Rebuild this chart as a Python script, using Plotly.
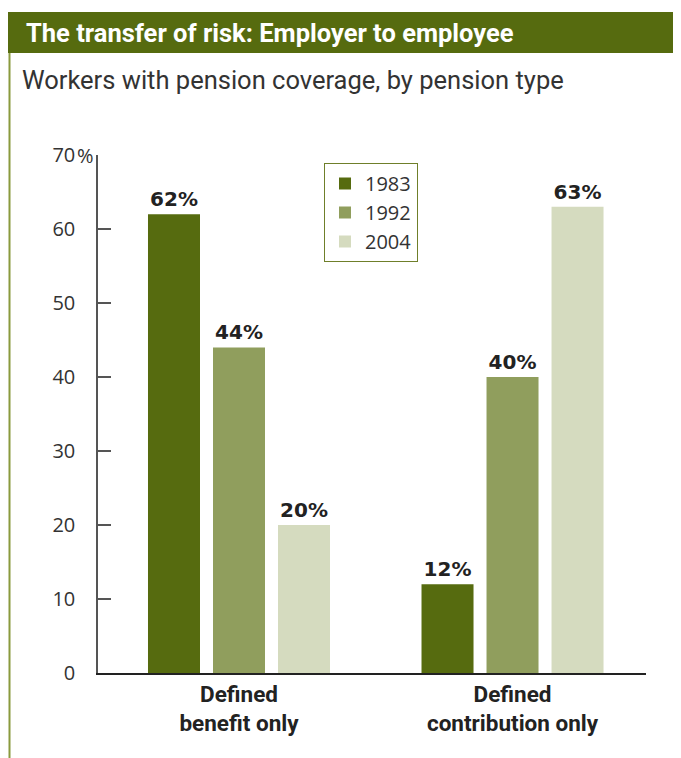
import plotly.graph_objects as go

categories = ["<b>Defined</b><br><b>benefit only</b>", "<b>Defined</b><br><b>contribution only</b>"]
years = ["1983", "1992", "2004"]
values_1983 = [62, 12]
values_1992 = [44, 40]
values_2004 = [20, 63]
series = [values_1983, values_1992, values_2004]
colors = ["#566b0f", "#909e5d", "#d5dbbf"]
y_tickvals = [0, 10, 20, 30, 40, 50, 60, 70]
y_ticktext = ["0", "10", "20", "30", "40", "50", "60", "70"]

fig = go.Figure()
for yr, vals, col in zip(years, series, colors):
    fig.add_trace(go.Bar(
        x=categories, y=vals, name=yr, marker=dict(color=col, line=dict(width=0)),
        text=[f"<b>{v}%</b>" for v in vals], textposition="outside", cliponaxis=False,
        textfont=dict(family="DejaVu Sans, sans-serif", size=20, color="#222222"),
    ))

# reference-image pixel coords; page body adds 8px offset
OFF = 8
W, H = 681 - OFF, 758 - OFF
L, R, T, B = 98, 646, 155, 673
pw, ph = R - L, B - T
def px(x):
    return (x - L) / pw
def py(y):
    return (B - y) / ph

fig.update_layout(
    width=W, height=H,
    margin=dict(l=L - OFF, r=681 - R, t=T - OFF, b=758 - B, pad=0),
    paper_bgcolor="white", plot_bgcolor="white",
    barmode="group", bargap=0.287, bargroupgap=0.2,
    showlegend=True,
    legend=dict(x=px(324), y=py(163), xanchor="left", yanchor="top",
                bordercolor="#6f7f2a", borderwidth=1, bgcolor="white",
                font=dict(family="Open Sans, sans-serif", size=20, color="#333333"),
                tracegroupgap=0, itemwidth=30),
    xaxis=dict(range=[-0.5155, 1.488], showline=True, linecolor="#222222", linewidth=2,
               ticks="", showgrid=False, zeroline=False,
               tickfont=dict(family="Roboto, sans-serif", size=22.5, color="#222222")),
    yaxis=dict(range=[0, 70], showline=True, linecolor="#555555", linewidth=1.5,
               ticks="inside", ticklen=13, tickwidth=1.5, tickcolor="#555555",
               tickvals=y_tickvals, ticktext=y_ticktext, showgrid=False, zeroline=False,
               ticklabelstandoff=17,
               tickfont=dict(family="Open Sans, sans-serif", size=20, color="#333333")),
    shapes=[
        dict(type="rect", xref="paper", yref="paper", x0=px(8), x1=px(690), y0=py(53), y1=py(12),
             fillcolor="#566b0f", line=dict(width=0), layer="below"),
        dict(type="line", xref="paper", yref="paper", x0=px(9.5), x1=px(9.5), y0=py(53), y1=py(770),
             line=dict(color="#8a9a3e", width=2)),
    ],
    annotations=[
        dict(text="<b>The transfer of risk: Employer to employee</b>", xref="paper", yref="paper",
             x=px(24), y=py(33), xanchor="left", yanchor="middle", showarrow=False,
             font=dict(family="Roboto, sans-serif", size=25.5, color="white")),
        dict(text="Workers with pension coverage, by pension type", xref="paper", yref="paper",
             x=px(20), y=py(80), xanchor="left", yanchor="middle", showarrow=False,
             font=dict(family="Roboto, sans-serif", size=25.5, color="#333333")),
        dict(text="%", xref="paper", yref="y", x=px(75), y=70, xanchor="left", yanchor="middle",
             showarrow=False, font=dict(family="Open Sans, sans-serif", size=20, color="#333333")),
    ],
)
fig.write_html("out.html")
